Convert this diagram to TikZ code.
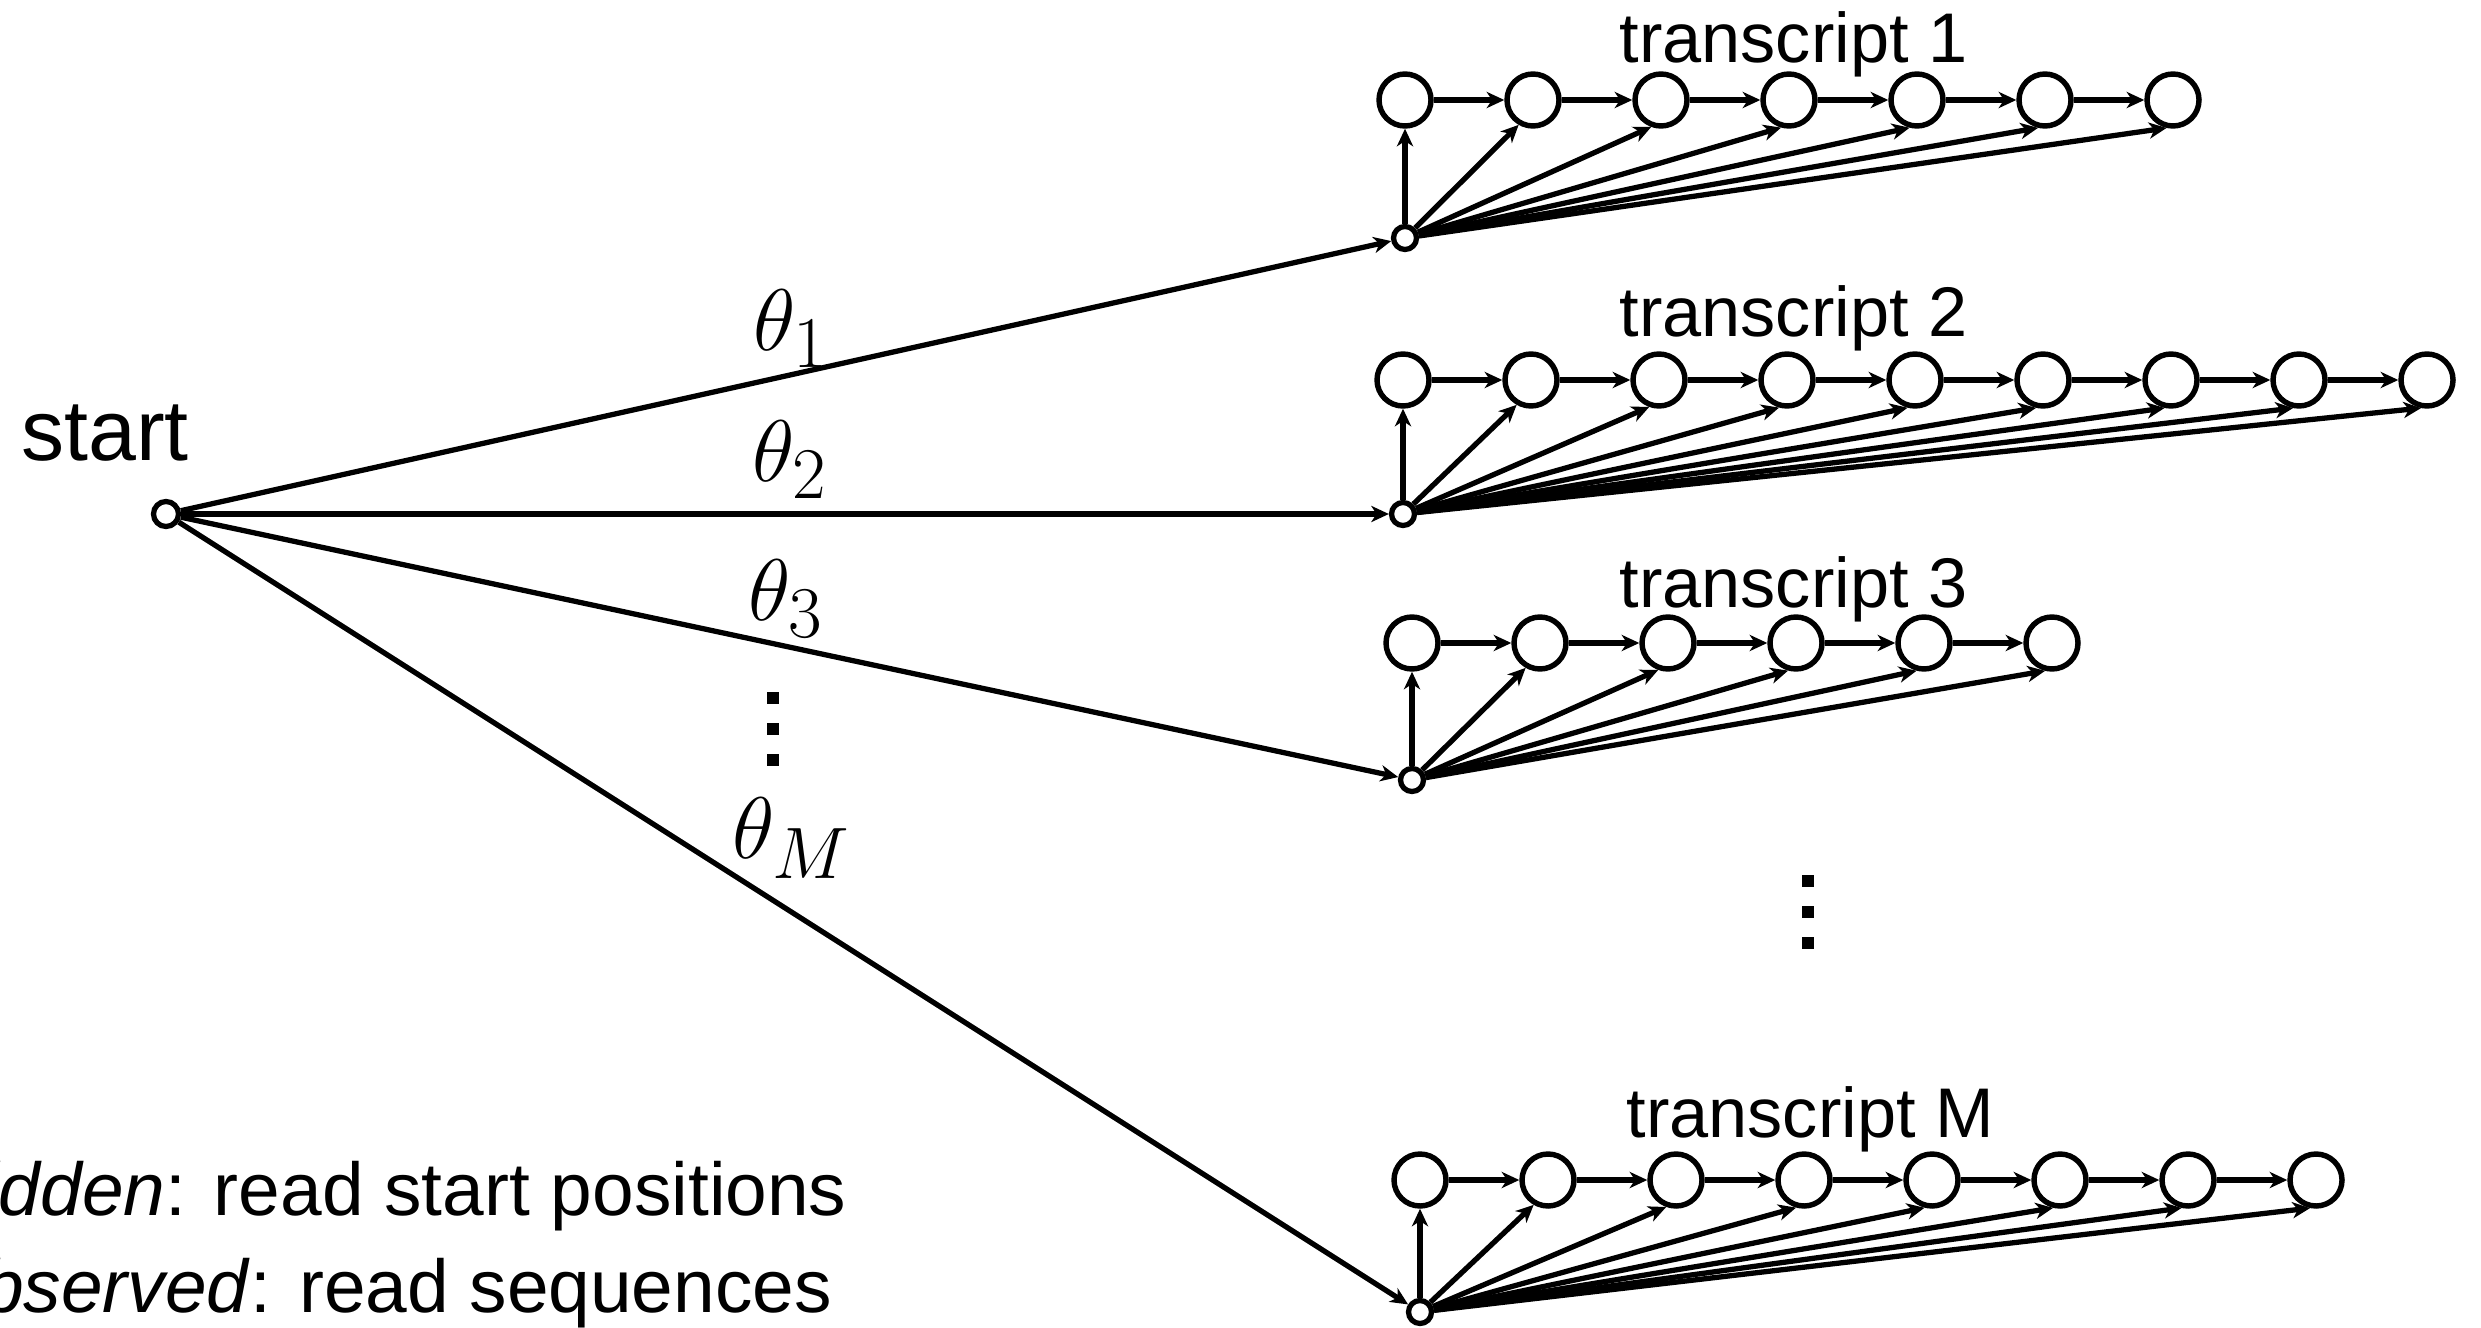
\documentclass[tikz,border=0pt]{standalone}
\usepackage[no-math]{fontspec}
\setmainfont{Liberation Sans}
\usetikzlibrary{arrows.meta}
\begin{document}
\begin{tikzpicture}[x=0.1mm,y=-0.1mm,
  line width=1.5pt,
  >={Stealth[length=5pt,width=4.6pt,inset=1.5pt]},
  state/.style={draw,circle,line width=1.55pt,inner sep=0pt,minimum size=5.2mm},
  entry/.style={draw,circle,line width=1.5pt,inner sep=0pt,minimum size=2.3mm},
  lbl/.style={font=\fontsize{20pt}{24pt}\selectfont,inner sep=0pt},
  greek/.style={font=\fontsize{24.88pt}{30pt}\selectfont,inner sep=0pt},
  note/.style={font=\fontsize{21.3pt}{26pt}\selectfont,inner sep=0pt,anchor=base west}
]
\useasboundingbox (0,0) rectangle (2481,1327);
\clip (0,0) rectangle (2481,1327);

% start node
\node[entry,minimum size=2.5mm] (start) at (166,514) {};
\node[font=\fontsize{24.5pt}{29pt}\selectfont,inner sep=0pt,anchor=base] (startlbl) at (105,460) {start};

% transcripts
\foreach \k/\sx/\sy/\ry/\n/\lab/\lx/\by in {
    1/1405/238/100/7/1/1617/63,
    2/1403/514/380/9/2/1617/337,
    3/1412/780/643/6/3/1617/607,
    M/1420/1312/1180/8/M/1624/1137} {
  \node[entry] (s\k) at (\sx,\sy) {};
  \foreach \i in {1,...,\n} {
    \node[state] (c\k-\i) at ({\sx+128*(\i-1)},\ry) {};
  }
  \node[lbl,anchor=base west] (t\k) at (\lx,\by) {transcript \lab};
  \draw[->] (start) -- (s\k);
  \draw[->] (s\k) -- (c\k-1.south);
  \foreach \i [evaluate=\i as \ang using {-100-20/(\i-1)}] in {2,...,\n} {
    \draw[->] (s\k) -- (c\k-\i.\ang);
  }
  \pgfmathtruncatemacro\lastidx{\n-1}
  \foreach \i [evaluate=\i as \j using int(\i+1)] in {1,...,\lastidx} {
    \draw[->] (c\k-\i) -- (c\k-\j);
  }
}

% theta labels
\node[greek] (th1) at (791,329) {$\theta_1$};
\node[greek] (th2) at (790,460) {$\theta_2$};
\node[greek] (th3) at (786,599) {$\theta_3$};
\node[greek] (thM) at (792,838) {$\theta_M$};

% vertical dots
\foreach \d in {-31,0,31} {
  \fill (767,{729+\d-6}) rectangle +(12,12);
  \fill (1802,{912+\d-6}) rectangle +(12,12);
}

% notes
\node[note] (hid) at (-62,1215) {\textit{hidden}: read start positions};
\node[note] (obs) at (-62,1312) {\textit{observed}: read sequences};
\end{tikzpicture}
\end{document}
